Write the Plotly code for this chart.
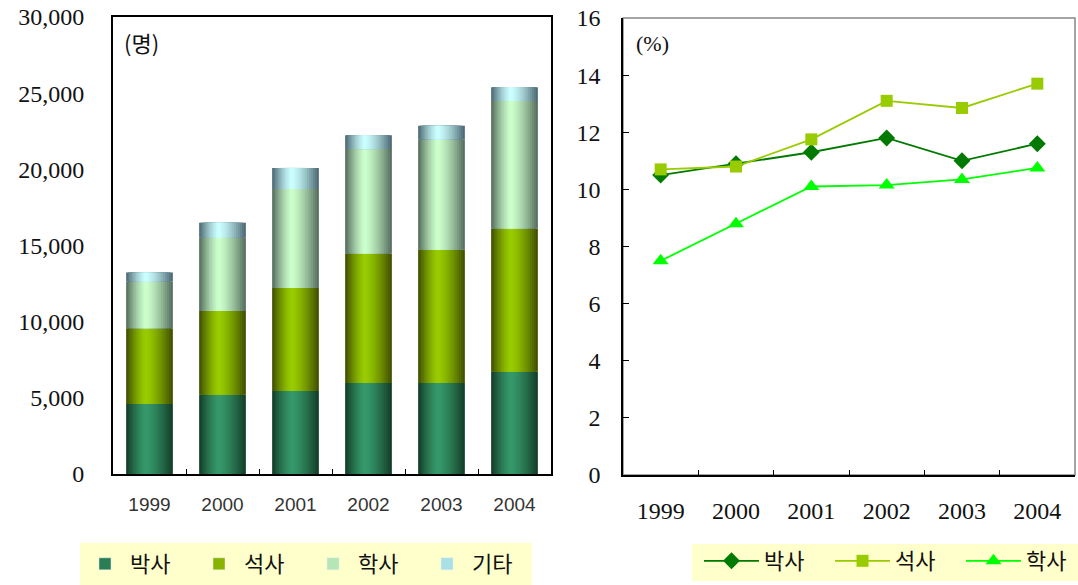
import plotly.graph_objects as go

# ---- data -------------------------------------------------------------
years = ["1999", "2000", "2001", "2002", "2003", "2004"]

# graduates by degree (persons)
phd = [4600, 5210, 5450, 5970, 5970, 6720]
masters = [4970, 5490, 6760, 8510, 8750, 9390]
bachelors = [3060, 4810, 6500, 6850, 7240, 8380]
others = [590, 990, 1380, 900, 900, 900]

# share by degree (%)
rate_phd = [10.5, 10.9, 11.3, 11.8, 11.0, 11.6]
rate_masters = [10.7, 10.8, 11.75, 13.1, 12.85, 13.7]
rate_bachelors = [7.5, 8.8, 10.1, 10.15, 10.35, 10.75]

bar_names = ["박사", "석사", "학사", "기타"]
line_names = ["박사", "석사", "학사"]

# ---- styling ----------------------------------------------------------
W, H = 1078, 585
SERIF = "Liberation Serif, Noto Sans CJK KR, serif"
KFONT = "Noto Sans CJK KR, Liberation Serif, serif"

# (edge colour, centre colour) for the cylinder shading
bar_colors = [
    ("#123a26", "#36996b"),
    ("#3d4c00", "#99cc00"),
    ("#52695a", "#ccffcc"),
    ("#48646f", "#ccffff"),
]
legend_colors = ["#2a7d55", "#88b400", "#b5e6b5", "#a8e0e6"]
line_colors = ["#007a00", "#99cc00", "#00ff00"]
line_symbols = ["diamond", "square", "triangle-up"]
BAR_W = 0.64
LAYERS = 14
HIGHLIGHT = 0.42   # position of the brightest strip, from the left edge


def px_x(p):
    return p / W


def px_y(p):
    return 1 - p / H


def hex_to_rgb(h):
    h = h.lstrip("#")
    return tuple(int(h[i:i + 2], 16) for i in (0, 2, 4))


def mix(c0, c1, t):
    a, b = hex_to_rgb(c0), hex_to_rgb(c1)
    return "rgb(%d,%d,%d)" % tuple(round(a[i] + (b[i] - a[i]) * t) for i in range(3))


fig = go.Figure()

# ---- stacked bars (nested strips give a rounded, cylinder-like look) ---
series = [phd, masters, bachelors, others]
base = [0] * len(years)
for si, vals in enumerate(series):
    edge, centre = bar_colors[si]
    for k in range(LAYERS):
        frac = k / LAYERS
        left = frac * HIGHLIGHT * BAR_W
        right = frac * (1 - HIGHLIGHT) * BAR_W
        r = 1 - (k + 0.5) / LAYERS
        t = 1 - r ** 1.4
        fig.add_trace(go.Bar(
            x=years, y=vals, base=list(base),
            width=BAR_W - left - right, offset=-BAR_W / 2 + left,
            marker=dict(color=mix(edge, centre, t), line=dict(width=0)),
            xaxis="x", yaxis="y", showlegend=False, hoverinfo="skip",
        ))
    # legend entry for the series
    fig.add_trace(go.Bar(
        x=[None], y=[None], name=bar_names[si],
        marker=dict(color=legend_colors[si]),
        xaxis="x", yaxis="y", legend="legend", showlegend=True,
    ))
    base = [b + v for b, v in zip(base, vals)]

# ---- share lines ------------------------------------------------------
for vals, name, col, sym in zip([rate_phd, rate_masters, rate_bachelors],
                                line_names, line_colors, line_symbols):
    fig.add_trace(go.Scatter(
        x=years, y=vals, name=name, mode="lines+markers",
        line=dict(color=col, width=1.8),
        marker=dict(symbol=sym, size=13 if sym == "diamond" else (12 if sym == "square" else 14),
                    color=col),
        xaxis="x2", yaxis="y2", legend="legend2",
    ))

# ---- layout -----------------------------------------------------------
fig.update_layout(
    width=W, height=H,
    margin=dict(l=0, r=0, t=0, b=0, autoexpand=False),
    paper_bgcolor="white", plot_bgcolor="white",
    barmode="overlay",
    font=dict(family=SERIF, color="black"),
    xaxis=dict(
        domain=[px_x(113), px_x(551)], anchor="y", type="category",
        range=[-0.5, 5.5], tickson="boundaries", ticks="inside", ticklen=5,
        tickcolor="black", showline=True, linecolor="black", linewidth=2,
        mirror=True, showgrid=False, tickangle=0,
        tickfont=dict(family="Liberation Sans, sans-serif", size=19, color="#333"),
        ticklabelstandoff=12,
    ),
    yaxis=dict(
        domain=[px_y(474), px_y(17)], anchor="x", range=[0, 30000],
        dtick=5000, tickformat=",", ticks="", showline=True, linecolor="black",
        linewidth=2, mirror=True, showgrid=False, zeroline=False,
        tickfont=dict(family=SERIF, size=24, color="#111"),
        ticklabelstandoff=22,
    ),
    xaxis2=dict(
        domain=[px_x(623), px_x(1075)], anchor="y2", type="category",
        range=[-0.5, 5.5], tickson="boundaries", ticks="inside", ticklen=5,
        tickcolor="black", showline=True, linecolor="black", linewidth=1.5,
        showgrid=False, tickangle=0,
        tickfont=dict(family=SERIF, size=24, color="#111"),
        ticklabelstandoff=13,
    ),
    yaxis2=dict(
        domain=[px_y(475), px_y(18)], anchor="x2", range=[0, 16],
        dtick=2, ticks="inside", ticklen=6, tickcolor="black",
        showline=True, linecolor="black", linewidth=1.5, showgrid=False,
        zeroline=False,
        tickfont=dict(family=SERIF, size=24, color="#111"),
        ticklabelstandoff=16,
    ),
    legend=dict(
        orientation="h", x=px_x(80), y=px_y(585), xanchor="left", yanchor="bottom",
        bgcolor="rgba(0,0,0,0)", font=dict(family=KFONT, size=22, color="#111"),
        entrywidth=59, entrywidthmode="pixels", itemwidth=40,
        traceorder="normal",
    ),
    legend2=dict(
        orientation="h", x=px_x(699), y=px_y(582), xanchor="left", yanchor="bottom",
        bgcolor="rgba(0,0,0,0)", font=dict(family=KFONT, size=22, color="#111"),
        entrywidth=61, entrywidthmode="pixels", itemwidth=55,
        traceorder="normal",
    ),
    shapes=[
        dict(type="rect", xref="paper", yref="paper",
             x0=px_x(623), x1=px_x(1075), y0=px_y(475), y1=px_y(18),
             line=dict(color="#888888", width=1.5), layer="below"),
        # legend backgrounds
        dict(type="rect", xref="paper", yref="paper",
             x0=px_x(80), x1=px_x(532), y0=px_y(585), y1=px_y(543),
             line=dict(width=0), fillcolor="#ffffcc", layer="below"),
        dict(type="rect", xref="paper", yref="paper",
             x0=px_x(692), x1=px_x(1078), y0=px_y(581), y1=px_y(544),
             line=dict(width=0), fillcolor="#ffffcc", layer="below"),
    ],
    annotations=[
        dict(text="(명)", xref="paper", yref="paper", x=px_x(122), y=px_y(42),
             xanchor="left", yanchor="middle", showarrow=False,
             font=dict(family=KFONT, size=22, color="#111")),
        dict(text="(%)", xref="paper", yref="paper", x=px_x(634), y=px_y(44),
             xanchor="left", yanchor="middle", showarrow=False,
             font=dict(family=SERIF, size=22, color="#111")),
    ],
)

fig.write_html("out.html")
